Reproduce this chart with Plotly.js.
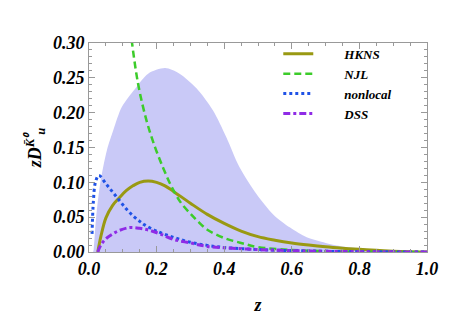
<!DOCTYPE html>
<html><head><meta charset="utf-8">
<script src="https://cdn.plot.ly/plotly-3.0.1.min.js"></script>
<style>body{margin:0;background:#fff}#chart{width:463px;height:317px}</style>
</head><body><div id="chart"></div>
<script>
// Band (uncertainty region, filled to zero)
const bandZ = [0.012,0.014,0.021,0.033,0.053,0.072,0.097,0.136,0.175,0.225,0.268,0.318,0.367,0.406,0.445,0.496,0.545,0.595,0.644,0.70,0.75,0.80,0.85,0.90,0.95,1.0];
const bandY = [0.0,0.004,0.049,0.098,0.146,0.175,0.208,0.234,0.256,0.264,0.256,0.235,0.203,0.165,0.122,0.083,0.054,0.035,0.021,0.013,0.008,0.0055,0.0035,0.002,0.0008,0.0];

const hknsZ = [0.026,0.035,0.05,0.07,0.09,0.11,0.13,0.15,0.175,0.2,0.225,0.25,0.3,0.35,0.4,0.45,0.5,0.55,0.6,0.65,0.7,0.75,0.8,0.85,0.9,0.95,1.0];
const hknsY = [0.0,0.022,0.049,0.067,0.078,0.088,0.095,0.100,0.102,0.100,0.095,0.087,0.070,0.054,0.041,0.030,0.022,0.017,0.013,0.010,0.0075,0.0055,0.0038,0.0024,0.0012,0.0004,0.0];

const njlZ = [0.126,0.145,0.17,0.195,0.22,0.244,0.273,0.30,0.32,0.35,0.40,0.45,0.50,0.60,0.70,0.80,0.90,1.0];
const njlY = [0.305,0.242,0.189,0.151,0.120,0.094,0.070,0.055,0.045,0.032,0.020,0.013,0.007,0.003,0.0012,0.0005,0.0002,0.0];

const nonlocalZ = [0.009,0.013,0.019,0.029,0.05,0.07,0.09,0.11,0.13,0.15,0.164,0.2,0.25,0.3,0.35,0.4,0.5,0.6,0.7,0.8,0.9,1.0];
const nonlocalY = [0.026,0.073,0.100,0.110,0.098,0.086,0.074,0.062,0.052,0.044,0.039,0.030,0.021,0.014,0.0095,0.0065,0.0035,0.002,0.001,0.0005,0.0002,0.0];

const dssZ = [0.026,0.035,0.05,0.07,0.09,0.119,0.15,0.18,0.21,0.25,0.3,0.35,0.44,0.5,0.6,0.7,0.8,0.9,1.0];
const dssY = [0.0,0.010,0.019,0.026,0.031,0.035,0.034,0.031,0.026,0.018,0.013,0.008,0.005,0.0035,0.002,0.001,0.0005,0.0002,0.0];

const names = ['HKNS','NJL','nonlocal','DSS'];
const pad = '\u00a0\u00a0\u00a0\u00a0\u00a0\u00a0\u00a0\u00a0';
const serif = 'Liberation Serif, serif';

const traces = [
  {x: bandZ, y: bandY, type:'scatter', mode:'lines', fill:'tozeroy', fillcolor:'#c9c9f7',
   line:{width:0, shape:'spline', smoothing:0.8, color:'#c9c9f7'}, showlegend:false, hoverinfo:'skip'},
  {x: hknsZ, y: hknsY, type:'scatter', mode:'lines', name: pad+names[0],
   line:{color:'#999912', width:3, shape:'spline'}},
  {x: njlZ, y: njlY, type:'scatter', mode:'lines', name: pad+names[1],
   line:{color:'#3ccc2a', width:2.5, dash:'7px,4px', shape:'spline'}},
  {x: nonlocalZ, y: nonlocalY, type:'scatter', mode:'lines', name: pad+names[2],
   line:{color:'#1f52e6', width:3, dash:'3px,3px', shape:'spline'}},
  {x: dssZ, y: dssY, type:'scatter', mode:'lines', name: pad+names[3],
   line:{color:'#8f2be6', width:3, dash:'7px,3px,3px,3px', shape:'spline'}}
];

function axis(extra) {
  return Object.assign({
    showgrid:false, zeroline:false, showline:true, linecolor:'#999', linewidth:1,
    mirror:'ticks', ticks:'inside', ticklen:6, tickcolor:'#999', tickwidth:1,
    tickfont:{family: serif, size:18, color:'#000', weight:'bold', style:'italic'}
  }, extra);
}

const layout = {
  width:463, height:317,
  margin:{l:89, r:36, t:43, b:65},
  paper_bgcolor:'#fff', plot_bgcolor:'#fff',
  showlegend:true,
  legend:{x:0.56, y:1.02, xanchor:'left', yanchor:'top', bgcolor:'rgba(0,0,0,0)',
    font:{family: serif, size:13, color:'#000', weight:'bold', style:'italic'},
    tracegroupgap:0},
  xaxis: axis({
    range:[0,1.0], tickvals:[0,0.2,0.4,0.6,0.8,1.0], ticktext:['0.0','0.2','0.4','0.6','0.8','1.0'],
    minor:{dtick:0.05, ticks:'inside', ticklen:3, tickcolor:'#999'},
    title:{text:'z', standoff:20, font:{family: serif, size:18, color:'#000', weight:'bold', style:'italic'}}
  }),
  yaxis: axis({
    range:[0,0.30], tickvals:[0,0.05,0.10,0.15,0.20,0.25,0.30], ticktext:['0.00','0.05','0.10','0.15','0.20','0.25','0.30'],
    minor:{dtick:0.01, ticks:'inside', ticklen:3, tickcolor:'#999'},
    title:{text:'zD<sup>K\u0304\u2070</sup><sub>u</sub>', standoff:6, font:{family: serif, size:18, color:'#000', weight:'bold', style:'italic'}}
  })
};

Plotly.newPlot('chart', traces, layout, {displayModeBar:false, staticPlot:true});
</script>
</body></html>
